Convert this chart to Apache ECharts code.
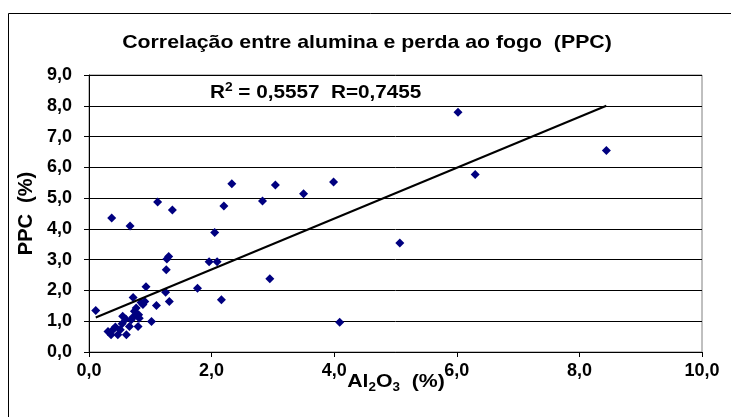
<!DOCTYPE html>
<html>
<head>
<meta charset="utf-8">
<script src="https://cdn.jsdelivr.net/npm/echarts@6/dist/echarts.min.js"></script>
<style>
  html, body { margin: 0; padding: 0; background: #fff; }
  #chart { width: 731px; height: 417px; }
</style>
</head>
<body>
<div id="chart"></div>
<script>
// Al2O3 (%) vs. loss on ignition (PPC, %) for each sample
const al2o3 = [
  0.11, 0.31, 0.36, 0.39, 0.43, 0.47, 0.51, 0.54, 0.55, 0.60,
  0.61, 0.66, 0.69, 0.72, 0.74, 0.77, 0.80, 0.81, 0.82, 0.85,
  0.91, 0.72, 0.93, 1.10, 1.02, 1.26, 1.27, 1.30, 1.25, 1.31,
  0.37, 0.67, 1.12, 1.36, 1.77, 1.96, 2.09, 2.16, 2.05, 2.20,
  2.33, 2.83, 3.04, 3.50, 3.99, 2.95, 4.09, 5.07, 6.02, 6.30,
  8.44, 0.88
];
const ppc = [
  1.35, 0.67, 0.56, 0.72, 0.81, 0.56, 0.72, 0.92, 1.16, 1.07,
  0.56, 0.83, 1.05, 1.14, 1.32, 1.43, 0.83, 1.21, 1.10, 1.61,
  1.64, 1.77, 2.12, 1.51, 0.99, 2.67, 3.02, 3.10, 1.94, 1.64,
  4.35, 4.09, 4.87, 4.61, 2.07, 2.93, 2.93, 1.70, 3.88, 4.74,
  5.47, 4.91, 5.43, 5.14, 5.52, 2.38, 0.97, 3.54, 7.79, 5.77,
  6.55, 1.54
];
// linear trend line end points (x, y)
const trendX = [0.11, 8.44];
const trendY = [1.12, 8.00];

const xTicks = { min: 0, max: 10, step: 2 };
const yTicks = { min: 0, max: 9, step: 1 };

const FONT = 'Liberation Sans, Arial, sans-serif';
const fmt = v => v.toFixed(1).replace('.', ',');

const points = al2o3.map((x, i) => [x, ppc[i]]);
const trend = trendX.map((x, i) => [x, trendY[i]]);

const chart = echarts.init(document.getElementById('chart'), null, { renderer: 'canvas' });
chart.setOption({
  animation: false,
  backgroundColor: '#fff',
  grid: {
    left: 89, top: 75, right: 29, bottom: 65,
    show: true, borderColor: '#808080', borderWidth: 1, backgroundColor: '#fff'
  },
  xAxis: {
    type: 'value',
    min: xTicks.min, max: xTicks.max, interval: xTicks.step,
    axisLine: { show: true, onZero: false, lineStyle: { color: '#000', width: 1 } },
    axisTick: { show: true, inside: false, length: 5, lineStyle: { color: '#000' } },
    splitLine: { show: false },
    axisLabel: {
      formatter: fmt, margin: 10, color: '#000',
      fontFamily: FONT, fontWeight: 'bold', fontSize: 18
    }
  },
  yAxis: {
    type: 'value',
    min: yTicks.min, max: yTicks.max, interval: yTicks.step,
    name: 'PPC  (%)',
    nameLocation: 'middle',
    nameGap: 52,
    nameTextStyle: { fontFamily: FONT, fontWeight: 'bold', fontSize: 20, color: '#000' },
    axisLine: { show: true, onZero: false, lineStyle: { color: '#000', width: 1 } },
    axisTick: { show: true, inside: false, length: 5, lineStyle: { color: '#000' } },
    splitLine: { show: true, lineStyle: { color: '#000', width: 1 } },
    axisLabel: {
      formatter: fmt, margin: 17, color: '#000',
      fontFamily: FONT, fontWeight: 'bold', fontSize: 18
    }
  },
  graphic: [
    {
      // chart area frame
      type: 'rect',
      silent: true,
      shape: { x: 8.5, y: 13.5, width: 730, height: 420 },
      style: { fill: 'none', stroke: '#000', lineWidth: 1 },
      z: 100
    },
    {
      // chart title
      type: 'text',
      x: 367, y: 33, scaleX: 1.12,
      style: {
        text: 'Correlação entre alumina e perda ao fogo  (PPC)',
        align: 'center', verticalAlign: 'top',
        fill: '#000',
        font: 'bold 19px ' + FONT
      },
      z: 50
    },
    {
      // regression statistics
      type: 'text',
      x: 210, y: 82, scaleX: 1.15,
      style: {
        text: '{m|R}{sup|2}{m| = 0,5557  R=0,7455}',
        fill: '#000',
        rich: {
          m: { fontFamily: FONT, fontWeight: 'bold', fontSize: 18, lineHeight: 20, padding: [4, 0, 0, 0], verticalAlign: 'bottom' },
          sup: { fontFamily: FONT, fontWeight: 'bold', fontSize: 12, lineHeight: 12, verticalAlign: 'top' }
        }
      },
      z: 50
    },
    {
      // x axis title with subscripts
      type: 'text',
      x: 396, y: 372, scaleX: 1.12,
      style: {
        text: '{m|Al}{sub|2}{m|O}{sub|3}{m|  (%)}',
        align: 'center',
        fill: '#000',
        rich: {
          m: { fontFamily: FONT, fontWeight: 'bold', fontSize: 19, lineHeight: 22, verticalAlign: 'top' },
          sub: { fontFamily: FONT, fontWeight: 'bold', fontSize: 12, lineHeight: 13, padding: [11, 0, 0, 0], verticalAlign: 'bottom' }
        }
      },
      z: 50
    }
  ],
  series: [
    {
      type: 'scatter',
      data: points,
      symbol: 'diamond',
      symbolSize: 9,
      itemStyle: { color: '#000080', opacity: 1 },
      z: 3
    },
    {
      type: 'line',
      data: trend,
      showSymbol: false,
      symbol: 'none',
      lineStyle: { color: '#000', width: 2 },
      z: 4
    }
  ]
});
</script>
</body>
</html>
